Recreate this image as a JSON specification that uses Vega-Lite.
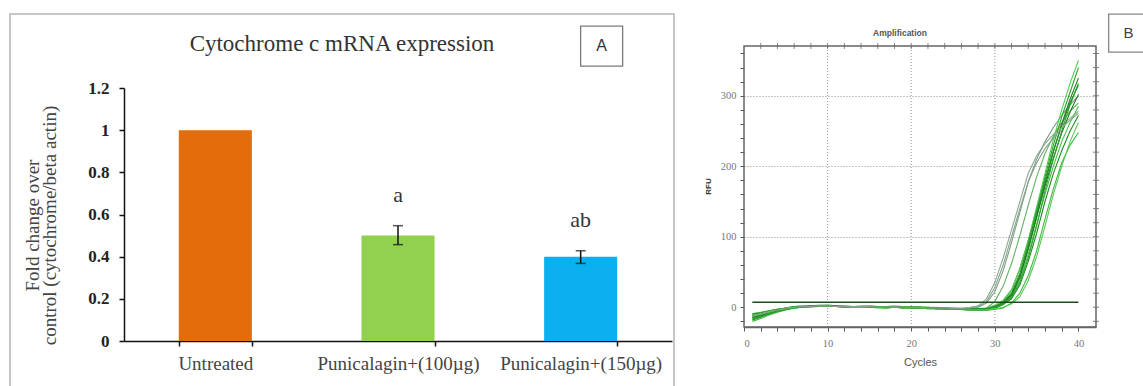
{
  "$schema": "https://vega.github.io/schema/vega-lite/v6.json",
  "padding": {"left": 9, "top": 11, "right": 0, "bottom": 0},
  "background": "white",
  "spacing": 29,
  "config": {"view": {"stroke": null}},
  "resolve": {"scale": {"color": "independent"}},
  "hconcat": [
    {
      "width": 664,
      "height": 375,
      "view": {"stroke": "#b5b5b5", "strokeWidth": 1.5},
      "title": {"text": "Cytochrome c mRNA expression", "font": "Liberation Serif", "fontSize": 23, "fontWeight": "normal", "color": "#333", "anchor": "middle", "frame": "group", "baseline": "middle", "offset": -53},
      "data": {"values": [
        {"group": "Untreated", "value": 1.0},
        {"group": "Punicalagin+(100µg)", "value": 0.5, "lo": 0.457, "hi": 0.547, "sig": "a"},
        {"group": "Punicalagin+(150µg)", "value": 0.4, "lo": 0.368, "hi": 0.428, "sig": "ab"}
      ]},
      "encoding": {
        "x": {"field": "group", "type": "nominal", "sort": null,
          "scale": {"range": [114, 662], "paddingInner": 0.6, "paddingOuter": 0.3},
          "axis": {"orient": "bottom", "offset": -48, "title": null, "tickBand": "extent", "labelAngle": 0, "domainColor": "#111", "domainWidth": 1.5, "tickColor": "#111", "tickSize": 5, "tickWidth": 1.5, "labelFont": "Liberation Serif", "labelFontSize": 19, "labelColor": "#444", "labelPadding": 8}}
      },
      "layer": [
        {
          "mark": {"type": "bar"},
          "encoding": {
            "y": {"field": "value", "type": "quantitative",
              "scale": {"domain": [0, 1.2], "range": [327, 74], "nice": false},
              "axis": {"values": [0, 0.2, 0.4, 0.6, 0.8, 1, 1.2], "tickCount": 50, "format": "~g", "offset": -114, "grid": false, "domainColor": "#111", "domainWidth": 1.5, "tickColor": "#111", "tickSize": 5, "tickWidth": 1.5, "labelFont": "Liberation Serif", "labelFontSize": 17, "labelFontWeight": "bold", "labelColor": "#222", "labelPadding": 10,
                "title": ["Fold change over", "control (cytochrome/beta actin)"], "titleFont": "Liberation Serif", "titleFontSize": 19, "titleFontWeight": "normal", "titleColor": "#444", "titleLineHeight": 17, "titlePadding": 28, "titleY": 211}},
            "color": {"field": "group", "type": "nominal", "scale": {"domain": ["Untreated", "Punicalagin+(100µg)", "Punicalagin+(150µg)"], "range": ["#E46C0A", "#92D050", "#0AB0F0"]}, "legend": null}
          }
        },
        {
          "transform": [{"filter": "datum.lo != null"}],
          "mark": {"type": "rule", "color": "#111", "strokeWidth": 1.5},
          "encoding": {
            "y": {"field": "lo", "type": "quantitative"},
            "y2": {"field": "hi"}
          }
        },
        {
          "transform": [{"filter": "datum.lo != null"}, {"fold": ["lo", "hi"], "as": ["end", "ev"]}],
          "mark": {"type": "tick", "color": "#111", "size": 10, "thickness": 1.5},
          "encoding": {
            "y": {"field": "ev", "type": "quantitative"}
          }
        },
        {
          "transform": [{"filter": "datum.sig != null"}],
          "mark": {"type": "text", "font": "Liberation Serif", "fontSize": 22, "color": "#333", "baseline": "middle", "dy": -31},
          "encoding": {
            "y": {"field": "hi", "type": "quantitative"},
            "text": {"field": "sig"}
          }
        },
        {
          "data": {"values": [{}]},
          "mark": {"type": "point", "shape": "M-1.05,-1H1.05V1H-1.05Z", "filled": false, "stroke": "#444", "strokeWidth": 1.3, "size": 1600, "clip": false},
          "encoding": {
            "x": {"datum": "Punicalagin+(150µg)", "type": "nominal", "bandPosition": 0.787},
            "y": {"datum": 1.399, "type": "quantitative"}
          }
        },
        {
          "data": {"values": [{}]},
          "mark": {"type": "text", "text": "A", "font": "Liberation Sans", "fontSize": 16, "color": "#333", "baseline": "middle"},
          "encoding": {
            "x": {"datum": "Punicalagin+(150µg)", "type": "nominal", "bandPosition": 0.787},
            "y": {"datum": 1.399, "type": "quantitative"}
          }
        }
      ]
    },
    {
      "width": 352,
      "height": 313,
      "layer": [
        {
          "data": {"values": [{"g": 10}, {"g": 20}, {"g": 30}]},
          "mark": {"type": "rule", "color": "#888", "strokeDash": [1, 2], "strokeWidth": 1, "opacity": 0.9},
          "encoding": {
            "x": {"field": "g", "type": "quantitative"},
            "y": {"datum": -28, "type": "quantitative"},
            "y2": {"datum": 370.6}
          }
        },
        {
          "data": {"values": [
            {"cycle": 1, "c1": -10, "c2": -13, "c3": -16, "c4": -12, "c5": -18, "c6": -9, "c7": -15, "c8": -20, "c9": -11, "c10": -14, "c11": -17, "c12": -13, "c13": -10, "c14": -12},
            {"cycle": 2, "c1": -8, "c2": -10, "c3": -13, "c4": -10, "c5": -14, "c6": -7, "c7": -12, "c8": -16, "c9": -9, "c10": -11, "c11": -13, "c12": -10, "c13": -8, "c14": -9},
            {"cycle": 3, "c1": -6, "c2": -7, "c3": -9, "c4": -7, "c5": -10, "c6": -5, "c7": -8, "c8": -11, "c9": -6, "c10": -8, "c11": -9, "c12": -7, "c13": -5, "c14": -6},
            {"cycle": 4, "c1": -4, "c2": -4, "c3": -6, "c4": -4, "c5": -6, "c6": -3, "c7": -5, "c8": -7, "c9": -3, "c10": -5, "c11": -6, "c12": -4, "c13": -3, "c14": -4},
            {"cycle": 5, "c1": -1, "c2": -2, "c3": -3, "c4": -2, "c5": -3, "c6": -1, "c7": -2, "c8": -4, "c9": -1, "c10": -2, "c11": -3, "c12": -2, "c13": -1, "c14": -1},
            {"cycle": 6, "c1": 1, "c2": 0, "c3": -1, "c4": 0, "c5": -1, "c6": 0, "c7": 0, "c8": -1, "c9": 1, "c10": 0, "c11": -1, "c12": 0, "c13": 1, "c14": 0},
            {"cycle": 7, "c1": 2, "c2": 1, "c3": 0, "c4": 1, "c5": 0, "c6": 1, "c7": 1, "c8": 0, "c9": 2, "c10": 1, "c11": 0, "c12": 1, "c13": 1, "c14": 1},
            {"cycle": 8, "c1": 2, "c2": 1, "c3": 1, "c4": 2, "c5": 1, "c6": 1, "c7": 1, "c8": 0, "c9": 2, "c10": 1, "c11": 1, "c12": 1, "c13": 2, "c14": 1},
            {"cycle": 9, "c1": 3, "c2": 2, "c3": 1, "c4": 2, "c5": 1, "c6": 2, "c7": 1, "c8": 1, "c9": 2, "c10": 2, "c11": 1, "c12": 1, "c13": 2, "c14": 2},
            {"cycle": 10, "c1": 3, "c2": 2, "c3": 1, "c4": 2, "c5": 2, "c6": 2, "c7": 2, "c8": 1, "c9": 3, "c10": 2, "c11": 1, "c12": 1, "c13": 2, "c14": 2},
            {"cycle": 11, "c1": 2, "c2": 1, "c3": 1, "c4": 1, "c5": 1, "c6": 2, "c7": 1, "c8": 1, "c9": 2, "c10": 1, "c11": 1, "c12": 1, "c13": 2, "c14": 1},
            {"cycle": 12, "c1": 2, "c2": 1, "c3": 0, "c4": 1, "c5": 1, "c6": 1, "c7": 1, "c8": 0, "c9": 2, "c10": 1, "c11": 0, "c12": 1, "c13": 1, "c14": 1},
            {"cycle": 13, "c1": 1, "c2": 0, "c3": 0, "c4": 1, "c5": 0, "c6": 1, "c7": 0, "c8": 0, "c9": 1, "c10": 0, "c11": 0, "c12": 0, "c13": 1, "c14": 1},
            {"cycle": 14, "c1": 2, "c2": 1, "c3": 0, "c4": 1, "c5": 1, "c6": 1, "c7": 1, "c8": 0, "c9": 1, "c10": 1, "c11": 0, "c12": 0, "c13": 1, "c14": 1},
            {"cycle": 15, "c1": 2, "c2": 1, "c3": 1, "c4": 1, "c5": 0, "c6": 1, "c7": 1, "c8": 0, "c9": 2, "c10": 1, "c11": 0, "c12": 1, "c13": 1, "c14": 1},
            {"cycle": 16, "c1": 1, "c2": 0, "c3": 0, "c4": 0, "c5": 0, "c6": 1, "c7": 0, "c8": -1, "c9": 1, "c10": 0, "c11": 0, "c12": 0, "c13": 0, "c14": 0},
            {"cycle": 17, "c1": 1, "c2": 0, "c3": -1, "c4": 0, "c5": 0, "c6": 0, "c7": 0, "c8": -1, "c9": 1, "c10": 0, "c11": -1, "c12": 0, "c13": 0, "c14": 0},
            {"cycle": 18, "c1": 2, "c2": 1, "c3": 0, "c4": 1, "c5": 0, "c6": 1, "c7": 0, "c8": 0, "c9": 1, "c10": 1, "c11": 0, "c12": 0, "c13": 1, "c14": 1},
            {"cycle": 19, "c1": 1, "c2": 0, "c3": 0, "c4": 0, "c5": -1, "c6": 0, "c7": 0, "c8": -1, "c9": 1, "c10": 0, "c11": -1, "c12": 0, "c13": 0, "c14": 0},
            {"cycle": 20, "c1": 1, "c2": 0, "c3": -1, "c4": 0, "c5": 0, "c6": 0, "c7": -1, "c8": -1, "c9": 0, "c10": 0, "c11": -1, "c12": 0, "c13": 0, "c14": 0},
            {"cycle": 21, "c1": 1, "c2": 0, "c3": -1, "c4": 0, "c5": -1, "c6": 0, "c7": -1, "c8": -1, "c9": 0, "c10": -1, "c11": -1, "c12": -1, "c13": 0, "c14": 0},
            {"cycle": 22, "c1": 0, "c2": -1, "c3": -1, "c4": -1, "c5": -1, "c6": 0, "c7": -1, "c8": -2, "c9": 0, "c10": -1, "c11": -2, "c12": -1, "c13": -1, "c14": -1},
            {"cycle": 23, "c1": 0, "c2": -1, "c3": -2, "c4": -1, "c5": -2, "c6": -1, "c7": -2, "c8": -2, "c9": -1, "c10": -1, "c11": -2, "c12": -1, "c13": -1, "c14": -1},
            {"cycle": 24, "c1": -1, "c2": -2, "c3": -2, "c4": -1, "c5": -2, "c6": -1, "c7": -2, "c8": -3, "c9": -1, "c10": -2, "c11": -2, "c12": -2, "c13": -1, "c14": -1},
            {"cycle": 25, "c1": -1, "c2": -2, "c3": -3, "c4": -2, "c5": -3, "c6": -1, "c7": -2, "c8": -3, "c9": -2, "c10": -2, "c11": -3, "c12": -2, "c13": -2, "c14": -2},
            {"cycle": 26, "c1": -1, "c2": -3, "c3": -3, "c4": -2, "c5": -3, "c6": -2, "c7": -3, "c8": -3, "c9": -2, "c10": -3, "c11": -3, "c12": -2, "c13": -2, "c14": -2},
            {"cycle": 27, "c1": 0, "c2": -2, "c3": -3, "c4": -3, "c5": -4, "c6": -2, "c7": -3, "c8": -4, "c9": -2, "c10": -3, "c11": -3, "c12": -3, "c13": -2, "c14": -1},
            {"cycle": 28, "c1": 2, "c2": 0, "c3": -3, "c4": -3, "c5": -4, "c6": -2, "c7": -3, "c8": -4, "c9": -2, "c10": -3, "c11": -3, "c12": -3, "c13": -2, "c14": 1},
            {"cycle": 29, "c1": 12, "c2": 6, "c3": -1, "c4": -3, "c5": -4, "c6": -2, "c7": -3, "c8": -4, "c9": -1, "c10": -2, "c11": -3, "c12": -3, "c13": -2, "c14": 8},
            {"cycle": 30, "c1": 35, "c2": 22, "c3": 8, "c4": 0, "c5": -2, "c6": 0, "c7": -1, "c8": -3, "c9": 3, "c10": 1, "c11": -1, "c12": -2, "c13": 1, "c14": 28},
            {"cycle": 31, "c1": 70, "c2": 52, "c3": 30, "c4": 8, "c5": 5, "c6": 5, "c7": 4, "c8": -1, "c9": 10, "c10": 6, "c11": 4, "c12": 0, "c13": 7, "c14": 60},
            {"cycle": 32, "c1": 110, "c2": 92, "c3": 62, "c4": 24, "c5": 18, "c6": 15, "c7": 12, "c8": 6, "c9": 25, "c10": 17, "c11": 14, "c12": 5, "c13": 20, "c14": 100},
            {"cycle": 33, "c1": 150, "c2": 135, "c3": 102, "c4": 55, "c5": 45, "c6": 38, "c7": 32, "c8": 20, "c9": 55, "c10": 42, "c11": 35, "c12": 15, "c13": 48, "c14": 140},
            {"cycle": 34, "c1": 190, "c2": 178, "c3": 145, "c4": 95, "c5": 85, "c6": 75, "c7": 65, "c8": 45, "c9": 95, "c10": 82, "c11": 70, "c12": 38, "c13": 90, "c14": 178},
            {"cycle": 35, "c1": 215, "c2": 210, "c3": 185, "c4": 140, "c5": 130, "c6": 118, "c7": 105, "c8": 80, "c9": 142, "c10": 127, "c11": 115, "c12": 72, "c13": 135, "c14": 205},
            {"cycle": 36, "c1": 232, "c2": 235, "c3": 218, "c4": 185, "c5": 176, "c6": 160, "c7": 150, "c8": 125, "c9": 190, "c10": 172, "c11": 165, "c12": 115, "c13": 180, "c14": 225},
            {"cycle": 37, "c1": 245, "c2": 255, "c3": 243, "c4": 230, "c5": 220, "c6": 200, "c7": 190, "c8": 168, "c9": 238, "c10": 212, "c11": 210, "c12": 160, "c13": 222, "c14": 240},
            {"cycle": 38, "c1": 258, "c2": 272, "c3": 262, "c4": 270, "c5": 260, "c6": 235, "c7": 222, "c8": 205, "c9": 280, "c10": 247, "c11": 250, "c12": 200, "c13": 258, "c14": 255},
            {"cycle": 39, "c1": 268, "c2": 287, "c3": 278, "c4": 305, "c5": 295, "c6": 262, "c7": 250, "c8": 230, "c9": 318, "c10": 277, "c11": 287, "c12": 235, "c13": 290, "c14": 265},
            {"cycle": 40, "c1": 278, "c2": 300, "c3": 290, "c4": 340, "c5": 325, "c6": 285, "c7": 272, "c8": 248, "c9": 350, "c10": 302, "c11": 318, "c12": 262, "c13": 315, "c14": 275}
          ]},
          "transform": [{"fold": ["c1", "c2", "c3", "c4", "c5", "c6", "c7", "c8", "c9", "c10", "c11", "c12", "c13", "c14"], "as": ["well", "rfu"]}],
          "mark": {"type": "line", "strokeWidth": 1.1, "clip": true},
          "encoding": {
            "x": {"field": "cycle", "type": "quantitative",
              "scale": {"domain": [0, 42.1], "nice": false, "zero": false},
              "axis": {"values": [0, 2, 4, 6, 8, 10, 12, 14, 16, 18, 20, 22, 24, 26, 28, 30, 32, 34, 36, 38, 40], "tickCount": 100, "format": "d", "labelExpr": "datum.value % 10 === 0 ? datum.label : ''", "labelOverlap": false, "grid": false, "tickSize": 4, "tickColor": "#555", "domainColor": "#666", "domainWidth": 1.5, "labelColor": "#777", "labelFont": "Liberation Sans Narrow", "labelFontSize": 10.5, "labelPadding": 7, "title": "Cycles", "titleFont": "Liberation Sans", "titleFontSize": 11, "titleFontWeight": "normal", "titleColor": "#555", "titlePadding": 8}},
            "y": {"field": "rfu", "type": "quantitative",
              "scale": {"domain": [-28, 416], "nice": false, "zero": false},
              "axis": {"values": [-20, 0, 20, 40, 60, 80, 100, 120, 140, 160, 180, 200, 220, 240, 260, 280, 300, 320, 340, 360], "tickCount": 100, "format": "d", "labelExpr": "datum.value % 100 === 0 ? datum.label : ''", "labelOverlap": false, "domain": false, "grid": true, "gridDash": [1, 2], "gridColor": "#888", "gridOpacity": {"condition": {"test": "datum.value % 100 === 0 && datum.value > 0", "value": 0.9}, "value": 0}, "tickSize": 4, "tickColor": "#555", "labelColor": "#777", "labelFont": "Liberation Sans Narrow", "labelFontSize": 10.5, "labelPadding": 4, "title": "RFU", "titleFont": "Liberation Sans", "titleFontSize": 8, "titleFontWeight": "bold", "titleColor": "#333", "titlePadding": 8, "titleY": 172}},
            "color": {"field": "well", "type": "nominal",
              "scale": {"domain": ["c1", "c2", "c3", "c4", "c5", "c6", "c7", "c8", "c9", "c10", "c11", "c12", "c13", "c14"],
                "range": ["#8fa893", "#7d9d84", "#5fb35f", "#2e9e2e", "#1e7f1e", "#47c447", "#238a23", "#3dbb3d", "#52cc52", "#1b7a1b", "#2fa32f", "#58c858", "#268f26", "#86a48b"]},
              "legend": null}
          }
        },
        {
          "data": {"values": [{"cycle": 1, "t": 7}, {"cycle": 40, "t": 7}]},
          "mark": {"type": "line", "color": "#1d4d1d", "strokeWidth": 1.5},
          "encoding": {
            "x": {"field": "cycle", "type": "quantitative"},
            "y": {"field": "t", "type": "quantitative"}
          }
        },
        {
          "data": {"values": [{"t": 2}, {"t": 4}, {"t": 6}, {"t": 8}, {"t": 10}, {"t": 12}, {"t": 14}, {"t": 16}, {"t": 18}, {"t": 20}, {"t": 22}, {"t": 24}, {"t": 26}, {"t": 28}, {"t": 30}, {"t": 32}, {"t": 34}, {"t": 36}, {"t": 38}, {"t": 40}]},
          "mark": {"type": "tick", "orient": "vertical", "size": 6, "thickness": 1, "color": "#555"},
          "encoding": {
            "x": {"field": "t", "type": "quantitative"},
            "y": {"datum": 370.6, "type": "quantitative"}
          }
        },
        {
          "data": {"values": [{"r": -20}, {"r": 0}, {"r": 20}, {"r": 40}, {"r": 60}, {"r": 80}, {"r": 100}, {"r": 120}, {"r": 140}, {"r": 160}, {"r": 180}, {"r": 200}, {"r": 220}, {"r": 240}, {"r": 260}, {"r": 280}, {"r": 300}, {"r": 320}, {"r": 340}, {"r": 360}]},
          "mark": {"type": "tick", "orient": "horizontal", "size": 6, "thickness": 1, "color": "#555", "clip": false},
          "encoding": {
            "x": {"datum": 42.1, "type": "quantitative"},
            "y": {"field": "r", "type": "quantitative"}
          }
        },
        {
          "data": {"values": [{}]},
          "mark": {"type": "rect", "fill": null, "fillOpacity": 0, "stroke": "#666", "strokeWidth": 1.5, "clip": false},
          "encoding": {
            "x": {"datum": 0, "type": "quantitative"},
            "x2": {"datum": 42.1},
            "y": {"datum": -28, "type": "quantitative"},
            "y2": {"datum": 370.6}
          }
        },
        {
          "data": {"values": [{}]},
          "mark": {"type": "text", "text": "Amplification", "font": "Liberation Sans", "fontSize": 8.5, "fontWeight": "bold", "color": "#555", "baseline": "middle", "clip": false},
          "encoding": {
            "x": {"datum": 18.66, "type": "quantitative"},
            "y": {"datum": 389, "type": "quantitative"}
          }
        },
        {
          "data": {"values": [{}]},
          "mark": {"type": "point", "shape": "M-1.05,-1H1.05V1H-1.05Z", "filled": false, "stroke": "#555", "strokeWidth": 1.3, "size": 1444, "clip": false},
          "encoding": {
            "x": {"datum": 46, "type": "quantitative"},
            "y": {"datum": 389, "type": "quantitative"}
          }
        },
        {
          "data": {"values": [{}]},
          "mark": {"type": "text", "text": "B", "font": "Liberation Sans", "fontSize": 15, "color": "#444", "baseline": "middle", "clip": false},
          "encoding": {
            "x": {"datum": 46, "type": "quantitative"},
            "y": {"datum": 389, "type": "quantitative"}
          }
        }
      ]
    }
  ]
}
